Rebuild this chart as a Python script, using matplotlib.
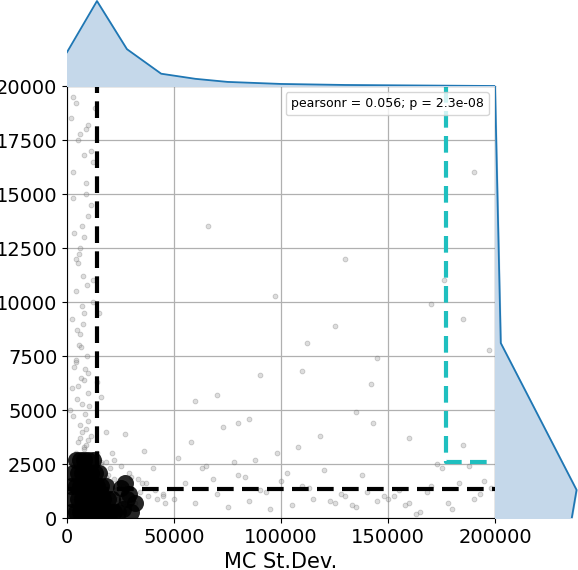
import matplotlib
matplotlib.use("Agg")
import matplotlib.pyplot as plt
import numpy as np

# scatter points (MC St.Dev., y value)
pts_x = [
 2000,3000,4000,5000,6000,7000,8000,9000,10000,11000,12000,13000,15000,16000,17000,18000,20000,22000,24000,26000,
 2500,3500,4500,5500,6500,7500,8500,9500,10500,11500,12500,13500,14500,16500,18500,21000,23000,25000,28000,30000,
 3000,4000,5000,6000,7000,8000,9000,10000,11000,12000,14000,16000,19000,22000,26000,30000,34000,38000,42000,46000,
 1500,2500,3500,4500,5500,6500,7500,8500,9500,10500,12000,15000,18000,21000,25000,29000,33000,37000,41000,45000,
 5000,7000,9000,11000,13000,15000,17000,19000,21000,23000,6000,8000,10000,12000,14000,16000,18000,20000,4000,9000,
 50000,55000,60000,65000,70000,75000,80000,85000,90000,95000,100000,105000,110000,115000,120000,125000,130000,135000,140000,145000,
 52000,58000,63000,68000,73000,78000,83000,88000,93000,98000,103000,108000,113000,118000,123000,128000,133000,138000,143000,148000,
 150000,155000,160000,165000,170000,175000,180000,185000,190000,195000,153000,158000,163000,168000,173000,178000,183000,188000,193000,198000,
 60000,70000,80000,90000,110000,125000,135000,145000,160000,170000,185000,190000,197000,66000,85000,97000,112000,130000,142000,176000,
 3000,5000,7000,9000,11000,4000,6000,8000,10000,12000,3000,6000,9000,5000,8000,11000,4000,7000,10000,13000,
 15000,20000,25000,30000,35000,40000,45000,18000,24000,32000,6000,10000,14000,27000,36000,9000,12000,3000,16000,22000,
 2000,4000,6000,8000,10000,3500,5500,7500,9500,2500,4500,6500,8500,5000,7000,3000,9000,6000,4000,8000,
]
pts_y = [
 500,800,1000,1200,900,1500,700,1100,1300,600,1000,800,1200,900,700,1100,800,600,900,700,
 300,600,1800,1400,2000,400,1700,2200,500,1900,2400,1600,300,1500,1200,1000,1300,800,600,900,
 2500,3000,3500,2800,4000,3200,2600,4500,3800,2200,3000,2500,2000,1800,1500,1400,1200,1000,900,700,
 5000,6000,7000,5500,8000,6500,9000,4800,7500,5200,11000,9500,4000,3000,2400,2100,1800,1600,1300,1100,
 100,200,150,250,300,200,100,350,200,150,2700,3300,3600,2900,2100,2600,1900,2300,12000,15000,
 900,1600,700,2400,1100,500,2000,800,1300,400,1700,600,1500,900,2200,700,1000,500,1200,800,
 2800,3500,2300,1800,4200,2600,1900,2700,1200,3000,2100,3300,1400,3800,800,1100,600,2000,4400,1000,
 900,1300,700,300,1500,2300,400,3400,900,1700,1000,600,200,1200,2500,700,1600,2400,1100,1400,
 5400,5700,4400,6600,6800,8900,4900,7400,3700,9900,9200,16000,7800,13500,4600,10300,8100,12000,6200,11000,
 16000,17500,13500,18000,14500,10500,12500,9500,6700,16500,19500,8500,15500,11800,13000,17000,7200,9800,14000,19000,
 600,400,300,1900,1600,2300,1000,2600,1400,700,4300,5800,6300,3900,3100,3400,10000,14800,5600,2700,
 18500,19200,17800,16800,18200,13200,12200,11200,10800,9200,8700,7900,6900,6100,5300,4700,4100,3700,7300,6400,
]
# dense core of the cloud
core_x = [2000,4000,6000,8000,10000,12000,14000,16000,18000,20000,22000,24000,
          3000,5000,7000,9000,11000,13000,15000,17000,19000,21000,
          2000,4000,6000,8000,10000,12000,14000,16000,18000,
          3000,5000,7000,9000,11000,13000,15000,
          4000,6000,8000,10000,12000,
          26000,28000,30000,32000,25000,27000,29000]
core_y = [300,300,300,300,300,300,300,300,300,300,300,300,
          900,900,900,900,900,900,900,900,900,900,
          1500,1500,1500,1500,1500,1500,1500,1500,1500,
          2100,2100,2100,2100,2100,2100,2100,
          2700,2700,2700,2700,2700,
          400,900,300,700,1400,1600,1100]
top_kde_x = [0, 14000, 28000, 44000, 60000, 75000, 100000, 130000, 200000]
top_kde_y = [33, 83, 36, 12, 7, 4, 2, 1, 0]
right_kde_y = [0, 1300, 8100, 20000]
right_kde_x = [16, 17, 1.2, 0]
r_text = "pearsonr = 0.056; p = 2.3e-08"

fig = plt.figure(figsize=(5.78, 5.70), dpi=100)
ax = fig.add_axes([67/578, 52/570, 428/578, 432/570])
axt = fig.add_axes([67/578, 484/570, 428/578, 86/570], sharex=ax)
axr = fig.add_axes([495/578, 52/570, 83/578, 432/570], sharey=ax)

ax.grid(True, color="#b0b0b0", lw=0.9)
ax.set_axisbelow(True)
ax.scatter(pts_x, pts_y, s=12, facecolor="#909090", edgecolor="#606060", alpha=0.3, lw=0.6)
ax.scatter(core_x, core_y, s=150, color="black", alpha=0.85, lw=0)
ax.set_xlim(0, 200000)
ax.set_ylim(0, 20000)
ax.set_xticks([0, 50000, 100000, 150000, 200000])
ax.set_yticks(np.arange(0, 20001, 2500))
ax.tick_params(labelsize=14)
ax.set_xlabel("MC St.Dev.", fontsize=15)
ax.plot([14000, 14000], [0, 20000], color="black", lw=3, dashes=(4, 2))
ax.plot([0, 200000], [1350, 1350], color="black", lw=3, dashes=(4, 2))
ax.plot([177000, 177000, 200000], [20000, 2600, 2600], color="#1fbfbf", lw=3, dashes=(4, 2))
leg_h = ax.plot([], [], ls="none")[0]
ax.legend([leg_h], [r_text], loc="upper right", handlelength=0, handletextpad=0, fontsize=9)

axt.fill_between(top_kde_x, top_kde_y, color="#c5d8ea")
axt.plot(top_kde_x, top_kde_y, color="#1f77b4", lw=1.3)
axt.set_ylim(0, 84)
axt.axis("off")

axr.fill_betweenx(right_kde_y, right_kde_x, color="#c5d8ea")
axr.plot(right_kde_x, right_kde_y, color="#1f77b4", lw=1.3)
axr.set_xlim(0, 17.3)
axr.axis("off")

fig.savefig("out.png", dpi=100)
